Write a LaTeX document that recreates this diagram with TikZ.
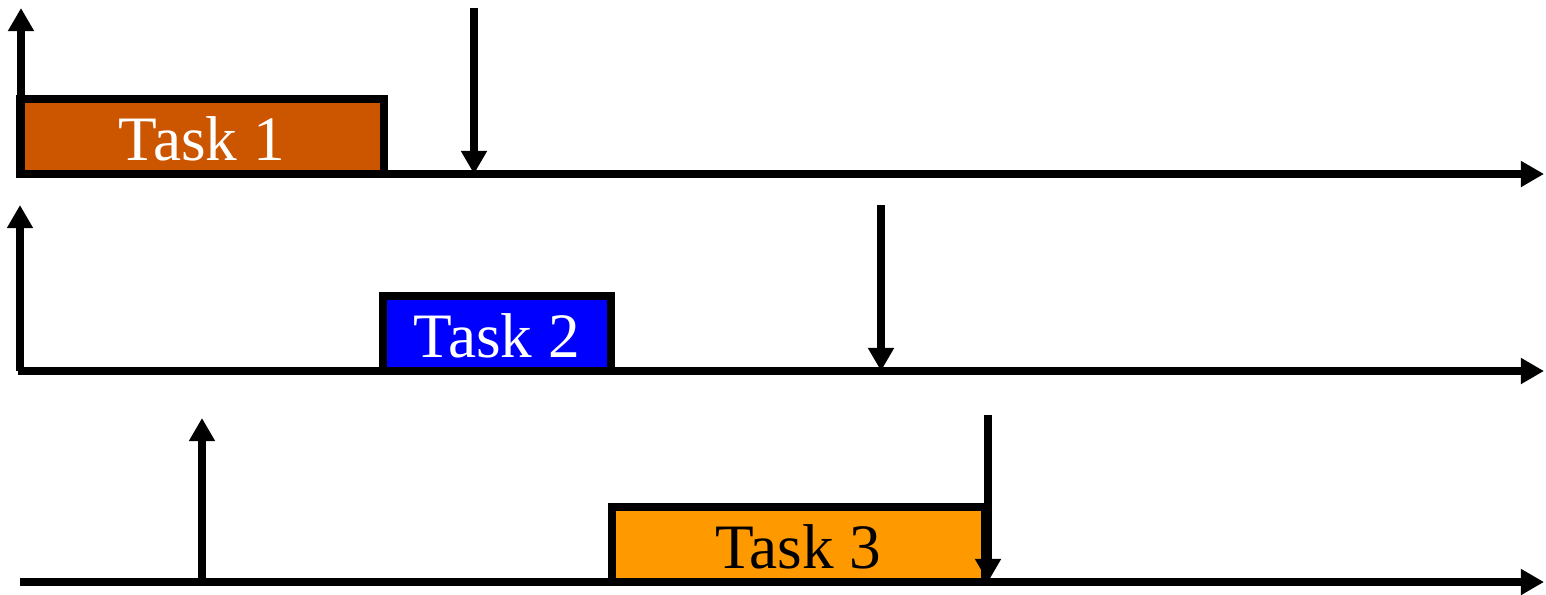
\documentclass[tikz,border=0pt]{standalone}
\usepackage{fontspec}
\setmainfont{Liberation Serif}
\usetikzlibrary{arrows.meta}
\definecolor{taskrust}{RGB}{204,85,0}
\definecolor{taskblue}{RGB}{0,0,255}
\definecolor{taskamber}{RGB}{255,153,0}
\begin{document}
\begin{tikzpicture}
		[x=0.025cm,y=-0.025cm,line width=5.5pt,%
		  taskbox/.style={shape=rectangle,draw,line width=5.5pt,inner sep=0pt,
		    minimum height=1.875cm,text height=1.18cm,text depth=0cm,
		    font=\fontsize{45}{52}\selectfont},
		  timeaxis/.style={-{Triangle[length=0.58cm,width=0.62cm]}},
		  event/.style={-{Triangle[length=0.58cm,width=0.62cm]}}]
		\useasboundingbox (0,0) rectangle (1546,594);
		% first row
		\coordinate (o1) at (18,174);
		\coordinate (e1) at (1544,174);
		\coordinate (r1) at (21,174);
		\coordinate (r1top) at (21,8);
		\coordinate (d1top) at (474,8);
		\coordinate (d1) at (474,174);
		\node[taskbox,fill=taskrust,text=white,minimum width=9.1cm] (t1) at (202,136.5) {Task 1};
		\draw[timeaxis] (o1) -- (e1);
		\draw[event] (r1) -- (r1top);
		\draw[event] (d1top) -- (d1);
		% second row
		\coordinate (o2) at (18,371);
		\coordinate (e2) at (1544,371);
		\coordinate (r2) at (20,371);
		\coordinate (r2top) at (20,205);
		\coordinate (d2top) at (881,205);
		\coordinate (d2) at (881,371);
		\node[taskbox,fill=taskblue,text=white,minimum width=5.7cm] (t2) at (497,333.5) {Task 2};
		\draw[timeaxis] (o2) -- (e2);
		\draw[event] (r2) -- (r2top);
		\draw[event] (d2top) -- (d2);
		% third row
		\coordinate (o3) at (20,582);
		\coordinate (e3) at (1544,582);
		\coordinate (r3) at (202,582);
		\coordinate (r3top) at (202,418);
		\coordinate (d3top) at (988,415);
		\coordinate (d3) at (988,582);
		\node[taskbox,fill=taskamber,text=black,minimum width=9.33cm] (t3) at (798.5,544.5) {Task 3};
		\draw[timeaxis] (o3) -- (e3);
		\draw[event] (r3) -- (r3top);
		\draw[event] (d3top) -- (d3);
	\end{tikzpicture}
\end{document}
